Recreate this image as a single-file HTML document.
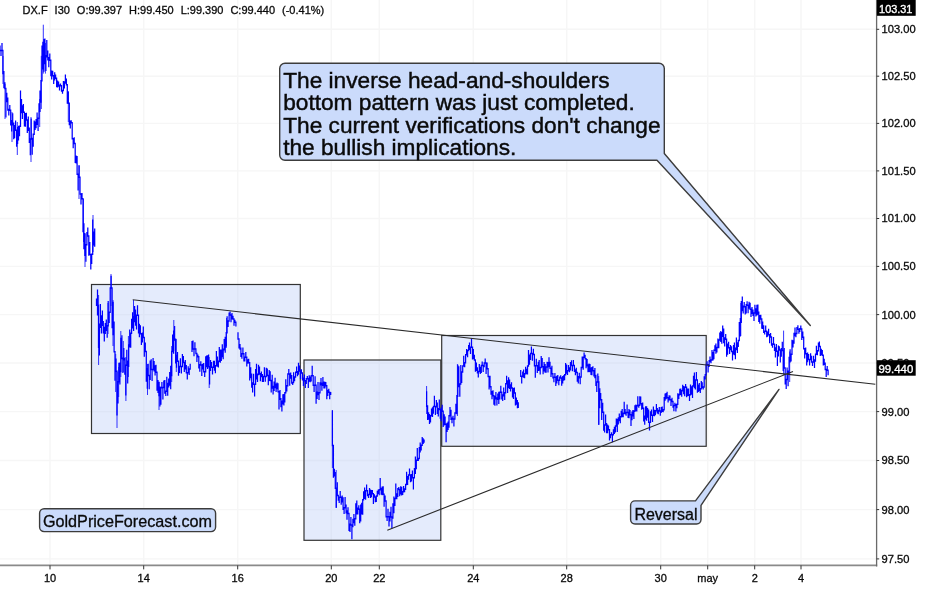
<!DOCTYPE html>
<html><head><meta charset="utf-8"><title>DX.F</title>
<style>
html,body{margin:0;padding:0;background:#fff;}
body{width:945px;height:589px;overflow:hidden;font-family:"Liberation Sans",sans-serif;}
svg{display:block;will-change:transform;}
text{font-family:"Liberation Sans",sans-serif;fill:#0a0a0a;stroke:#0a0a0a;stroke-width:0.3px;}
.w{fill:#fff;stroke:#fff;stroke-width:0.35px;}
</style></head><body>
<svg width="945" height="589" viewBox="0 0 945 589">
<rect width="945" height="589" fill="#fff"/>
<path d="M50 0V565.4M143.7 0V565.4M237.7 0V565.4M331.3 0V565.4M379.3 0V565.4M473.3 0V565.4M566.7 0V565.4M660.7 0V565.4M707.7 0V565.4M754.7 0V565.4M801 0V565.4M0 29.3H876.6M0 76.2H876.6M0 123.4H876.6M0 170.9H876.6M0 218.5H876.6M0 266.4H876.6M0 314.6H876.6M0 363H876.6M0 411.6H876.6M0 460.5H876.6M0 509.6H876.6M0 558.9H876.6" stroke="#f6f6f6" stroke-width="1.4" fill="none"/>
<rect x="91.5" y="284.5" width="208.8" height="149" fill="rgba(165,188,245,0.30)" stroke="#333" stroke-width="1.2"/>
<rect x="304" y="360" width="136.8" height="180.3" fill="rgba(165,188,245,0.30)" stroke="#333" stroke-width="1.2"/>
<rect x="441.7" y="335.5" width="264.5" height="110.8" fill="rgba(165,188,245,0.30)" stroke="#333" stroke-width="1.2"/>
<path d="M0 45.6V51.2M1 49.7V56M2 43V51.2M2.9 49.7V74.2M3.9 71.1V88.3M4.9 82.3V89.2M5.9 87.7V117.4M6.8 92.8V102.3M7.8 97.4V110.8M8.8 108.8V115.5M9.8 105V110.9M10.7 109.4V125.6M11.7 119.9V131.4M12.7 113.2V125.5M13.7 122.5V139.2M14.6 124.9V138.2M15.6 120.4V131.1M16.6 129.6V146.7M17.6 126.9V143.9M18.5 125.8V140.6M19.5 125.6V136.2M20.5 90.4V127.1M21.5 99V113.3M22.4 105.2V119M23.4 104V112.9M24.4 111.4V126.5M25.4 113V126.8M26.4 112.7V120.7M27.3 119.2V133.1M28.3 116.5V130.9M29.3 127.5V143.1M30.3 138.2V155.3M31.2 118.5V139.7M32.2 137.8V154.8M33.2 133.6V146.7M34.2 120.6V135.1M35.1 121.5V129.9M36.1 119.1V128.2M37.1 112.5V125M38.1 117.4V130.9M39 103.3V118.9M40 90.5V112.1M41 80V102.7M42 45.4V81.5M42.9 41.7V69.4M43.9 39.1V71.7M44.9 38.6V64.3M45.9 55.1V70.9M46.8 40.1V57.4M47.8 50.5V60.6M48.8 57.1V67.3M49.8 53.5V60.9M50.8 59.4V76.2M51.7 70.6V79.4M52.7 70.8V76.6M53.7 75.1V84M54.7 72.3V80.5M55.6 74.4V79M56.6 77.5V87.2M57.6 80.4V87.6M58.6 81.5V86.7M59.5 84.6V90.4M60.5 83.4V86.6M61.5 85.1V91.7M62.5 89.7V93.8M63.4 81V91.2M64.4 81.2V88.6M65.4 74.4V83.7M66.4 78.6V85.5M67.3 84V103.7M68.3 91.6V103.9M69.3 102.4V125.3M70.3 120.4V128.5M71.2 120.2V123.4M72.2 121.9V139.4M73.2 137.9V148.3M74.2 137.2V144.2M75.2 142.7V163M76.1 155.4V163.6M77.1 155.9V174.9M78.1 173.4V190.5M79.1 165.6V178M80 176.4V194.7M81 193.2V204.6M82 192.9V199.6M83 198.1V232.3M83.9 223.3V249.3M84.9 233V256M85.9 244.1V261.8M86.9 231.9V245.6M87.8 227.4V236.8M88.8 235.3V255.7M89.8 242.1V255.3M90.8 253.8V269.4M91.7 253.6V263.9M92.7 219.5V255.1M93.7 231.4V245.6M94.7 228.4V246.8M96.5 298.5V306M97.5 289.6V315.6M98.5 304.8V348.1M99.4 323.5V355.6M100.4 304.1V327.9M101.4 315.2V333.5M102.4 310.5V326M103.3 320.9V333.6M104.3 326.7V341.4M105.3 323.1V333.9M106.3 319.5V330.9M107.2 324.9V337.7M108.2 301V326.4M109.2 311.4V322.9M110.2 287.3V312.9M111.1 275.8V288.8M112.1 287.3V328.3M113.1 301.8V335.3M114.1 321.4V352.6M115 351.1V380.8M116 358.4V371.9M117 370.4V415.6M118 381.1V403.5M118.9 362.7V382.6M119.9 362.4V384.5M120.9 337.8V372.2M121.9 335.3V359.2M122.9 357.5V372.9M123.8 348.1V360.5M124.8 357.8V374.8M125.8 364.6V395.5M126.8 349.8V366.1M127.7 360.6V383.4M128.7 344.2V367.1M129.7 329.6V347.5M130.7 332.5V347.8M131.6 318.7V334M132.6 312.2V328.6M133.6 316.1V331M134.6 306V322.3M135.5 309.5V325.7M136.5 314.4V329.4M137.5 305.3V315.9M138.5 314.4V333.5M139.4 323.7V337.2M140.4 325.2V334.4M141.4 332.9V344.9M142.4 332.6V342.6M143.3 326.4V338.2M144.3 336.7V356.7M145.3 342.6V352.2M146.3 350.7V381.8M147.3 368V388.7M148.2 363.8V376.3M149.2 374.8V389.2M150.2 360.5V380.1M151.2 359.2V370.2M152.1 368.7V380.9M153.1 358.1V370.2M154.1 360.9V371.5M155.1 365.3V375.4M156 364.8V372.9M157 371.4V390.7M158 380V393.1M159 381.8V396.3M159.9 386.4V406.6M160.9 386.7V404.8M161.9 382V388.6M162.9 386.7V399.4M163.8 380.6V388.2M164.8 380.1V393.8M165.8 390.5V396.1M166.8 376.7V392M167.7 382.7V395.7M168.7 378.6V387.4M169.7 372.1V385.7M170.7 365.8V389.3M171.7 350.7V376.2M172.6 334.5V352.2M173.6 330.5V353.8M174.6 325.9V340.7M175.6 338.6V363.4M176.5 354.7V367.8M177.5 352V362M178.5 360.5V375.8M179.5 365.7V373M180.4 358.3V367.2M181.4 365.7V373.6M182.4 354.1V367.2M183.4 356.1V363.2M184.3 361.7V371.9M185.3 359.9V369.5M186.3 365V373.4M187.3 371.9V379.5M188.2 366.2V373.4M189.2 368.3V375.1M190.2 363.8V369.8M192 341V352.1M193 340.4V349.7M194 348.2V356.3M194.9 342.3V349.7M195.9 348.2V354.3M196.9 352.7V362.1M197.9 354.4V357.6M198.8 356.1V368.5M199.8 364.1V371.8M200.8 361.2V365.7M201.8 364.2V375.9M202.7 363.7V369.5M203.7 362.9V372.4M204.7 370.9V377M205.7 356.2V372.4M206.6 355.5V367.3M207.6 355.3V369.1M208.6 354.6V367.6M209.6 366.1V384.4M210.5 359.9V371M211.5 361.9V368.1M212.5 366.6V374.5M213.5 360.7V368.1M214.4 360.7V370.8M215.4 365.1V373.2M216.4 350.9V366.6M217.4 356.6V366.7M218.4 360.6V367.6M219.3 346.9V362.1M220.3 349.6V362.7M221.3 349.6V361M222.3 344.3V357.2M223.2 348.6V359.2M224.2 339.1V350.5M225.2 336.8V352.8M226.2 332.1V347.8M227.1 316.2V333.6M228.1 320.3V326.9M229.1 312.6V321.8M230.1 311.4V315.7M231 314.2V322.3M232 313V319.6M233 315.7V319.7M234 318.2V325.7M234.9 319.8V323M235.9 321.5V326.4M238 332.3V339.8M239 338.3V348.5M240 343.9V349.7M240.9 347.5V357.1M241.9 352.9V358.8M242.9 347.5V354.4M243.9 352.9V361.4M244.8 356.4V361.5M245.8 352.1V357.9M246.8 356.4V366.5M247.8 359.3V363.8M248.7 358.8V363.6M249.7 362.1V380.6M250.7 367.2V378.3M251.7 373.5V387.7M252.6 382.3V392.6M253.6 373.8V385M254.6 383.5V396.4M255.6 369V385M256.5 363.8V379.6M257.5 373.6V382M258.5 364.7V375.3M259.5 366.4V374.7M260.4 373.1V381.3M261.4 371.6V377.2M262.4 374.1V382M263.4 375.7V382M264.4 367.2V377.2M265.3 375.7V381.7M266.3 367.8V377.2M267.3 368.4V376.2M268.3 374.7V385.2M269.2 369.9V380.9M270.2 371.2V381.2M271.2 379.7V392.5M272.2 374.8V388.8M273.1 385.8V394.4M274.1 381.4V391.1M275.1 377.8V388.2M276.1 383.6V391.9M277 382.6V389.2M278 383.2V392.4M279 390.9V409.6M280 389.9V399.9M280.9 398V407.3M281.9 400.5V411.4M282.9 394.3V404.6M283.9 394V405.6M284.8 392.1V402.5M285.8 379.2V393.6M286.8 385V391.4M287.8 373.3V386.5M288.8 369.1V374.8M289.7 373.3V385.7M290.7 372.5V378.7M291.7 375V383.7M292.7 381.7V384.9M293.6 372.3V383.2M294.6 376.2V381.3M295.6 371.6V377.7M296.6 366.4V373.1M297.5 370.9V376.3M298.5 362.8V374.7M299.5 365.6V371.7M300.5 370.2V378.9M301.4 369.2V373.8M302.4 372.3V380.6M303.4 377.4V385.9M304.4 374.6V381.4M305.3 379.9V388M306.3 378.1V383.9M307.3 376V379.6M308.3 378.1V388M309.2 375.2V381.7M310.2 376.6V382.2M311.2 375.1V381.6M312.2 365.7V376.6M313.2 375.1V385.9M314.1 384.4V392.1M315.1 376.3V385.9M316.1 384.4V403.7M317.1 391.5V399M318 382.1V395.2M319 392.1V399.9M320 382.2V393.6M321 378.1V385.4M321.9 382.6V390.8M322.9 376.9V385.9M323.9 381.6V388.6M324.9 381.7V388.6M325.8 382V386.4M326.8 384.9V399.2M327.8 389.8V396M328.8 388.8V393.1M329.7 391.6V399.3M330.7 391.9V395.1M332.4 410.5V446.3M333.4 444.8V477.8M334.4 468.7V476.6M335.3 472.1V489.1M336.3 487.6V507.8M337.3 482.3V496.3M338.3 494.8V500.7M339.2 496.5V503M340.2 491V498M341.2 496.5V504.7M342.2 495.5V502.5M343.1 497.3V510.1M344.1 507V513.9M345.1 497V508.5M346.1 504.6V513.4M347 510.3V519.7M348 507.2V514.2M349 512.7V531M350 523.5V531.9M350.9 517V525.8M351.9 524.3V539.2M352.9 518.7V527.3M353.9 513.9V523.2M354.8 518.1V525.7M355.8 503.2V519.6M356.8 500.4V514.6M357.8 507.5V514.4M358.8 505.2V510M359.7 508.5V523.2M360.7 504.4V521.4M361.7 502.8V514.4M362.7 499V514.8M363.6 491.2V500.5M364.6 487.4V499M365.6 490V499.7M366.6 484.6V491.5M367.5 490V496.2M368.5 493.8V498M369.5 487.9V495.3M370.5 489.5V498M371.4 490.1V497.3M372.4 489.9V494.5M373.4 493V504M374.4 494.3V497.8M375.3 496.3V502.2M376.3 495.2V501.9M377.3 490.8V496.7M378.3 489.4V494M379.2 488.9V495.3M380.2 478.1V490.4M381.2 487.8V494.8M382.2 486.4V495.3M383.2 486.2V494.9M384.1 493.4V506.7M385.1 495.5V501.7M386.1 500.2V517.4M387.1 515.9V521.1M388 508.8V517.4M389 515.9V526.4M390 511.7V521.6M391 506.7V517.7M391.9 516.2V528.2M392.9 503.3V518.8M393.9 496.6V513.3M394.9 497.8V506M395.8 483.5V499.3M396.8 493.2V499.2M397.8 487.9V496.9M398.8 487V490.2M399.7 488.7V496.2M400.7 486.3V494.6M401.7 486.8V495.6M402.7 491.1V495.1M403.6 486V492.6M404.6 488.2V492.2M405.6 483.8V490M406.6 471.8V485.3M407.6 476.1V485.1M408.5 474.2V479.7M409.5 468.4V475.7M410.5 474.2V482.2M411.5 474V481.4M412.4 470.6V478.6M413.4 477.1V489.4M414.4 468V478.6M415.4 456.6V473.9M416.3 459.6V469.3M417.3 448.1V461.1M418.3 457.7V461.1M419.3 446.9V459.2M420.2 442.4V452.5M421.2 444.4V450.5M422.2 436.9V445.9M423.2 438.3V443.9M424.1 439.5V442.7M426.6 391.3V406.9M427.6 405.3V419.9M428.6 412.2V419.8M429.5 414V424.1M430.5 415V422.5M431.5 408.6V416.5M432.5 407.3V416.9M433.4 405.8V413.7M434.4 395.7V407.3M435.4 405.8V415.1M436.4 399.9V407.6M437.3 402.4V413.9M438.3 407.9V416.6M439.3 399.5V410.2M440.3 408.7V418.7M441.2 407.5V421.3M442.2 404.8V411.9M443.2 410.4V427M444.2 414.3V425.5M445.1 416.5V425M446.1 423.5V442.3M447.1 422.7V432.1M448.1 421.6V430.1M449 414.9V427.7M450 407.1V416.4M451 409.7V420M452 417.4V423.2M453 415.8V419.7M453.9 418.2V426.5M454.9 412.3V419.7M455.9 403.7V413.8M456.9 395.1V414.3M457.8 364.7V397.1M458.8 366.2V387.2M459.8 383.3V396.7M460.8 364.9V384.8M461.7 371.3V383.1M462.7 365.2V372.8M463.7 355.8V366.7M464.7 362V367.2M465.6 353.9V363.5M466.6 348.9V355.4M467.6 349.7V357.3M468.6 345V351.2M469.5 342.4V350M470.5 346.6V354M471.5 338.5V348.1M472.5 346.6V359.4M473.4 349V359.3M474.4 354.7V360.7M475.4 359.2V371.7M476.4 362.5V370.9M477.4 367.2V373.6M478.3 370.7V377.4M479.3 363.9V372.2M480.3 366.8V373.9M481.3 364.8V372.9M482.2 361.5V366.3M483.2 364.8V372.1M484.2 362.2V367.2M485.2 358.6V363.7M486.1 362.2V374M487.1 362.6V369.6M488.1 368.1V377.2M489.1 375.7V389.6M490 375.7V387.4M491 385.9V394.7M492 391.1V399.3M493 390.2V396.5M493.9 395V404.7M494.9 395.7V405.8M495.9 391.9V399.5M496.9 397.3V405.6M497.8 393.4V400M498.8 391.7V403.9M499.8 391.4V399.6M500.8 385.7V392.9M501.8 391.4V399.5M502.7 394.2V401M503.7 387.4V396.5M504.7 392V399.9M505.7 383V393.5M506.6 375.7V384.5M507.6 380.3V393M508.6 377.3V388.2M509.6 379.4V389.1M510.5 384.3V391.5M511.5 382.3V388.7M512.5 387.2V397.4M513.5 387.9V399M514.4 387.4V393.7M515.4 392.2V405.5M516.4 397.5V404.7M517.4 400.1V408.2M518.3 402.2V408.1M520.7 370.1V377.1M521.7 375.6V383.6M522.7 371.4V377.3M523.6 369.4V377.8M524.6 373V378.2M525.6 366.8V374.5M526.6 368.7V374.2M527.5 365.3V374.6M528.5 350.1V366.8M529.5 354.6V364.7M530.5 352.7V360M531.4 346.6V354.2M532.4 352.7V360.8M533.4 348.7V355.2M534.4 353.7V366.6M535.3 365.1V377.8M536.3 358.8V366.6M537.3 365.1V372.9M538.3 361.8V371.1M539.2 360V370.7M540.2 366.7V374.5M541.2 356.1V368.2M542.2 358.1V367.4M543.1 365.9V374.3M544.1 362.1V371.4M545.1 364V372.7M546.1 366.3V372.7M547.1 361.8V367.8M548 362V372.5M549 357.2V367.2M550 361.8V369.1M551 367.5V377.1M551.9 365.7V374.4M552.9 372.9V378.4M553.9 376.6V382.3M554.9 373V378.1M555.8 376.6V385.9M556.8 375.7V383.6M557.8 375V381M558.8 379.5V385.2M559.7 376.4V381M560.7 375.3V378.7M561.7 377.2V385.7M562.7 376.1V383.4M563.6 375.3V380.8M564.6 374.1V380.2M565.6 363V375.6M566.6 364.6V373.7M567.5 370.1V375M568.5 365.1V371.6M569.5 367.3V372.3M570.5 361.9V370.6M571.5 360.3V366.2M572.4 364.7V371.3M573.4 360V366.2M574.4 364.7V372M575.4 369.2V375.2M576.3 367.7V373.2M577.3 371.7V381.7M578.3 376.1V383.6M579.3 372.8V378.6M580.2 376.3V384.2M581.2 366.7V377.8M582.2 356.4V368.2M583.2 356.6V369.7M584.1 352.6V358.1M585.1 354.8V359.5M586.1 358V368.2M587.1 359V366.6M588 364.3V372.2M589 363.6V372.1M590 364V372.2M591 367.5V375M591.9 366.9V375.2M592.9 366.3V371.4M593.9 369.9V376.5M594.9 368V378.2M595.9 374.7V386.1M596.8 381.2V392.1M597.8 373.4V382.7M598.8 381.2V424.7M599.8 388.2V408.3M600.7 393.1V400.4M601.7 398.9V419.9M602.7 402.7V413.1M603.7 411.6V430.8M604.6 424.2V432.4M605.6 414.6V425.7M606.6 422.9V433.3M607.6 424.6V433.3M608.5 425.4V430.5M609.5 429V440.6M610.5 434.1V438.3M611.5 432.2V435.6M612.4 434.1V442.3M613.4 429.2V435.6M614.4 426.8V434.1M615.4 425.3V432.5M616.3 418.4V426.8M617.3 418.8V432M618.3 417.3V424.4M619.3 413.5V421.3M620.3 416V423.2M621.2 410.7V417.5M622.2 409.1V417.2M623.2 412.6V417.3M624.2 401.8V414.1M625.1 409.1V414.5M626.1 411.8V415.7M627.1 404.5V413.3M628.1 411.8V418M629 408.9V418.2M630 410.1V415.4M631 413.9V426M632 411.6V420.2M632.9 410.1V416.5M633.9 410.2V419M634.9 405.2V412.1M635.9 404.6V411.3M636.8 404.9V411.6M637.8 396.2V406.4M638.8 404.6V407.8M639.8 396.3V406.1M640.7 396.6V404.4M641.7 402.9V409.8M642.7 402.5V409M643.7 407.5V421.4M644.7 415.5V424.7M645.6 406.2V419.5M646.6 406.3V420.7M647.6 407.9V417.7M648.6 409.6V423.1M649.5 421.6V430.4M650.5 411.2V423.1M651.5 409.6V415.9M652.5 414.4V421.9M653.4 406.6V415.9M654.4 409.7V416.3M655.4 410.1V415.2M656.4 404.1V411.6M657.3 407.9V413.6M658.3 409.7V414.3M659.3 406.9V411.8M660.3 410.3V415.7M661.2 407V412.9M662.2 406.6V411.9M663.2 409V412.2M664.2 396.9V410.5M665.1 393.6V400.8M666.1 393.1V399.2M667.1 391.8V398.5M668.1 397V402.6M669.1 395.3V400.4M670 395.6V400.6M671 399.1V406M672 397.7V402.2M673 400.7V407.8M673.9 404.8V411.2M674.9 402.7V406.3M675.9 404.1V411.4M676.9 403.5V408.2M677.8 393.2V405M678.8 393.7V398.9M679.8 388.8V395.5M680.8 388.4V394.9M681.7 390V396.8M682.7 384.8V391.5M683.7 385.9V394.2M684.7 386.4V396.2M685.6 384V387.9M686.6 386.4V397.2M687.6 388.5V396.3M688.6 388.4V395.9M689.5 393.9V400.9M690.5 384.4V395.4M691.5 386.2V394.8M692.5 385.3V397.9M693.5 375.8V386.8M694.4 372.4V388.2M695.4 379.2V389.5M696.4 372V380.7M697.4 379.2V392.7M698.3 384.5V391.9M699.3 383.1V391.3M700.3 388V393M701.3 381.1V389.5M702.2 382.2V388.2M703.2 386.2V389.4M704.2 376.2V387.7M705.2 373.9V379.5M706.1 363.7V375.4M707.1 361.3V365.5M708.1 364V372.4M709.1 359.9V366.9M710 356.6V362.3M711 359.2V363.3M712 349.9V360.7M713 352V360.6M713.9 349.5V359.2M714.9 345.3V351M715.9 343.5V353.7M716.9 346.7V352.5M717.9 338.6V348.2M718.8 339.2V348.2M719.8 332.6V340.7M720.8 330.9V341.9M721.8 331.9V343.8M722.7 325.5V337M723.7 328.5V343.2M724.7 337.2V346.5M725.7 334V340.1M726.6 338.6V356.7M727.6 343.5V354.8M728.6 341.7V348.4M729.6 346.9V354M730.5 345V350.2M731.5 346.3V352.3M732.5 350.8V360.5M733.5 344.9V354.4M734.4 342.5V355.2M735.4 347.4V359.3M736.4 337.6V350.3M737.4 342.3V353M738.3 339.8V347.1M739.3 321.9V341.3M740.3 318.1V336.4M741.3 300.9V323M742.3 296.6V311.3M743.2 305.5V313.4M744.2 302V307.4M745.2 305.9V314.5M746.2 304.1V313.4M747.1 301.2V306.1M748.1 304.6V313.2M749.1 301.8V308.7M750.1 302.8V309.9M751 308.4V317M752 306.9V314.1M753 309.4V315.9M754 312.2V321M754.9 304.7V313.8M755.9 308.2V316.6M756.9 304.7V315.6M757.9 304.5V314.7M758.8 311.5V322.1M759.8 315V323.8M760.8 314.7V319.8M761.8 318.3V328.7M762.7 321.5V329.1M763.7 325.2V333.1M764.7 330.6V334.6M765.7 325.5V332.1M766.7 330.6V337.2M767.6 331.4V336.7M768.6 328.7V335.6M769.6 334.1V343.2M770.6 333.1V337.8M771.5 336.3V345.8M772.5 343.3V347.8M773.5 337V345.1M774.5 343.6V351.1M775.4 347.2V357.4M776.4 344V352.1M777.4 350.6V366M778.4 345.5V356.6M779.3 346.3V350.7M780.3 349.2V362.4M781.3 347.9V356.7M782.3 341.8V351.3M783.2 349.8V371.1M784.2 348.1V368.8M785.2 367.3V384.5M786.2 378.8V388.9M787.1 367.6V380.3M788.1 370.5V386.2M789.1 356.7V374.3M790.1 349.2V362.6M791.1 353.4V361.4M792 339.7V354.9M793 340.3V347.6M794 332.8V343.8M795 327.4V336.2M795.9 332.7V337.3M796.9 327V334.2M797.9 325.3V330.1M798.9 328.6V333.7M799.8 328.1V332.1M800.8 325.4V329.8M801.8 328.3V340.1M802.8 331.5V338.1M803.7 336.6V349.4M804.7 347.9V358.6M805.7 347.6V354.4M806.7 352.9V365.4M807.6 352.4V362.2M808.6 353.9V360.2M809.6 358.7V365.4M810.6 353.3V360.2M811.5 355.7V362.8M812.5 361.2V365.9M813.5 355.8V362.7M814.5 359.2V368.1M815.5 353.4V361.7M816.4 345.7V355M817.4 350.1V355.2M818.4 342.5V351.6M819.4 341.4V347.3M820.3 345.8V355.9M821.3 348.8V355.3M822.3 349.9V355.9M823.3 354.4V365.4M824.2 358.7V365.1M825.2 362.5V370.3M826.2 368.8V377M827.2 365.9V371.1M828.1 369.6V375.3" stroke="#0000ff" stroke-width="1.25" fill="none"/>
<path d="M3 56V84M5 84V119M12 112V142M17.3 122V155M31 117V162M39.7 99V127M41.3 55.8V109M43.3 24.7V73.6M45.4 43V73.6M68.3 91.4V122M79 165V199M83.5 199V242M85 234V267M93 215V252M98.6 295V365M108 303V334M111 274V306M113 300V346M115.7 354V392M117 372V428M118.7 367V397M120.8 331V377M123.3 341V372M125.9 357V401M128.4 336V377M133.5 300V331M147.5 364V395M159 382V410M171.7 346V382M173.8 320V351M176.3 339V372M209.2 357V388M226.5 318V346M332.4 410V468M336.2 470V508M426.6 386V414M457.4 364V416M598.7 376V425M740.8 303V336M783.6 330.6V374.5M789.7 351.5V382" stroke="#0000ff" stroke-width="0.8" fill="none"/>
<path d="M132.7 299.8L875.3 384.2M387.3 530.2L793 371.4" stroke="#2a2a2a" stroke-width="1.1" fill="none"/>
<path d="M285 63.3H659a5.3 5.3 0 0 1 5.3 5.3V153.5L810.3 325.5L657 160.3H285a5.3 5.3 0 0 1 -5.3 -5.3V68.6a5.3 5.3 0 0 1 5.3 -5.3Z" fill="#cbdbfb" stroke="#3c3c3c" stroke-width="1.4" stroke-linejoin="round"/>
<text x="283.2" y="87.6" font-size="22.68" style="stroke-width:0.45px" fill="#000">The inverse head-and-shoulders</text>
<text x="283.2" y="110.1" font-size="22.68" style="stroke-width:0.45px" fill="#000">bottom pattern was just completed.</text>
<text x="283.2" y="132.6" font-size="22.68" style="stroke-width:0.45px" fill="#000">The current verifications don&#39;t change</text>
<text x="283.2" y="155.1" font-size="22.68" style="stroke-width:0.45px" fill="#000">the bullish implications.</text>
<rect x="39.6" y="508.7" width="176" height="22.9" rx="4.5" fill="#cbdbfb" stroke="#3c3c3c" stroke-width="1.4"/>
<text x="42.9" y="527" font-size="16.2" fill="#000">GoldPriceForecast.com</text>
<path d="M635 500.9H695.5L779 389.4L701 505.3V519.6a4.4 4.4 0 0 1 -4.4 4.4H635a4.4 4.4 0 0 1 -4.4 -4.4V505.3a4.4 4.4 0 0 1 4.4 -4.4Z" fill="#cbdbfb" stroke="#3c3c3c" stroke-width="1.4" stroke-linejoin="round"/>
<text x="634.4" y="519.6" font-size="16" fill="#000">Reversal</text>
<path d="M0 565.4H877.2" stroke="#8a8a8a" stroke-width="1.8" fill="none"/>
<path d="M876.6 0V566.4" stroke="#6a6a6a" stroke-width="1.3" fill="none"/>
<path d="M50 565.4v4M143.7 565.4v4M237.7 565.4v4M331.3 565.4v4M379.3 565.4v4M473.3 565.4v4M566.7 565.4v4M660.7 565.4v4M707.7 565.4v4M754.7 565.4v4M801 565.4v4M876.6 29.3h2.6M876.6 76.2h2.6M876.6 123.4h2.6M876.6 170.9h2.6M876.6 218.5h2.6M876.6 266.4h2.6M876.6 314.6h2.6M876.6 363h2.6M876.6 411.6h2.6M876.6 460.5h2.6M876.6 509.6h2.6M876.6 558.9h2.6" stroke="#333" stroke-width="1" fill="none"/>
<text x="50" y="582" font-size="11" text-anchor="middle">10</text>
<text x="143.7" y="582" font-size="11" text-anchor="middle">14</text>
<text x="237.7" y="582" font-size="11" text-anchor="middle">16</text>
<text x="331.3" y="582" font-size="11" text-anchor="middle">20</text>
<text x="379.3" y="582" font-size="11" text-anchor="middle">22</text>
<text x="473.3" y="582" font-size="11" text-anchor="middle">24</text>
<text x="566.7" y="582" font-size="11" text-anchor="middle">28</text>
<text x="660.7" y="582" font-size="11" text-anchor="middle">30</text>
<text x="707.7" y="582" font-size="11" text-anchor="middle">may</text>
<text x="754.7" y="582" font-size="11" text-anchor="middle">2</text>
<text x="801" y="582" font-size="11" text-anchor="middle">4</text>
<text x="881.5" y="33.2" font-size="11.15">103.00</text>
<text x="881.5" y="80.1" font-size="11.15">102.50</text>
<text x="881.5" y="127.3" font-size="11.15">102.00</text>
<text x="881.5" y="174.8" font-size="11.15">101.50</text>
<text x="881.5" y="222.4" font-size="11.15">101.00</text>
<text x="881.5" y="270.3" font-size="11.15">100.50</text>
<text x="881.5" y="318.5" font-size="11.15">100.00</text>
<text x="881.5" y="366.9" font-size="11.15">99.50</text>
<text x="881.5" y="415.5" font-size="11.15">99.00</text>
<text x="881.5" y="464.4" font-size="11.15">98.50</text>
<text x="881.5" y="513.5" font-size="11.15">98.00</text>
<text x="881.5" y="562.8" font-size="11.15">97.50</text>
<rect x="876.9" y="0" width="38.8" height="15.8" fill="#000"/>
<text x="879.1" y="12.6" font-size="10.9" class="w">103.31</text>
<rect x="876.9" y="360.2" width="38.8" height="15.5" fill="#000"/>
<text x="878.4" y="373.1" font-size="11.4" class="w">99.440</text>
<text x="22.6" y="13.7" font-size="11" style="white-space:pre;word-spacing:0.42px">DX.F  I30  O:99.397  H:99.450  L:99.390  C:99.440  (-0.41%)</text>
</svg></body></html>
